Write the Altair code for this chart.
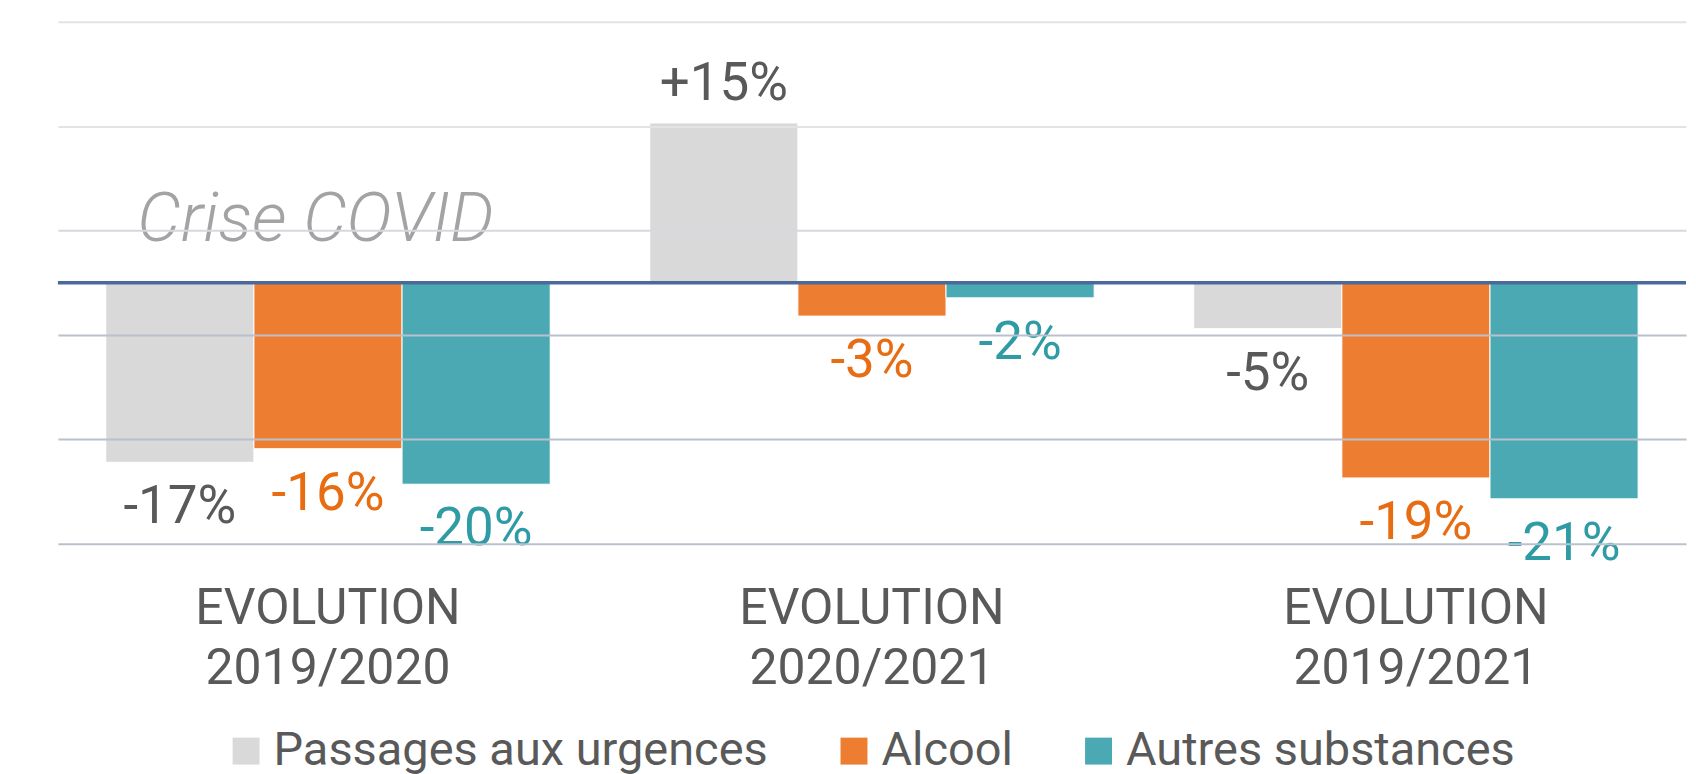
import altair as alt
import pandas as pd

groups = ["EVOLUTION 2019/2020", "EVOLUTION 2020/2021", "EVOLUTION 2019/2021"]
series = ["Passages aux urgences", "Alcool", "Autres substances"]
passages = [-17.2, 15.3, -4.4]
alcool = [-15.9, -3.2, -18.7]
autres = [-19.3, -1.45, -20.7]
passages_labels = ["-17%", "+15%", "-5%"]
alcool_labels = ["-16%", "-3%", "-19%"]
autres_labels = ["-20%", "-2%", "-21%"]
bar_colors = ["#d9d9d9", "#ed7d31", "#4ba9b3"]
label_colors = ["#595959", "#e86c12", "#2f9ba5"]
y_ticks = [-25, -15, -5, 5, 15, 25]
zero_line = [0]
annotation_text = ["Crise COVID"]
annotation_group = [groups[0]]
annotation_value = [4.0]

rows = []
for s, vals, labs in zip(series, [passages, alcool, autres],
                         [passages_labels, alcool_labels, autres_labels]):
    for g, v, l in zip(groups, vals, labs):
        rows.append({"group": g, "series": s, "value": v, "label": l})
df = pd.DataFrame(rows)

FONT = "Roboto"

x_scale = alt.Scale(domain=groups, paddingInner=0.183, paddingOuter=0.088)
x_enc = alt.X(
    "group:N", sort=groups, scale=x_scale,
    axis=alt.Axis(title=None, labelExpr="split(datum.label, ' ')", labelFont=FONT,
                  labelFontSize=50, labelColor="#595959", labelLineHeight=60,
                  labelPadding=40, labelLimit=0, ticks=False, tickSize=0,
                  domain=False, labelAngle=0, grid=False),
)
xo_enc = alt.XOffset("series:N", sort=series,
                     scale=alt.Scale(domain=series, paddingInner=0, paddingOuter=0))
y_scale = alt.Scale(domain=[-25, 25], nice=False, zero=False)

bars = alt.Chart(df).mark_bar(stroke="white", strokeWidth=1).encode(
    x=x_enc,
    xOffset=xo_enc,
    y=alt.Y("value:Q", scale=y_scale,
            axis=alt.Axis(title=None, values=y_ticks, labels=False, ticks=False,
                          domain=False, grid=True, gridWidth=2, zindex=1,
                          gridColor={"condition": [
                              {"test": "datum.value >= 15", "value": "#e3e3e3"},
                              {"test": "datum.value > 0", "value": "#d5d8de"}],
                              "value": "#bac1cd"})),
    color=alt.Color("series:N", sort=series,
                    scale=alt.Scale(domain=series, range=bar_colors),
                    legend=alt.Legend(orient="none", legendX=165, legendY=707,
                                      direction="horizontal", title=None,
                                      symbolType="square", symbolSize=729,
                                      symbolStrokeWidth=0, labelFont=FONT,
                                      labelFontSize=47, labelColor="#595959",
                                      labelOffset=4, columnPadding=62,
                                      labelLimit=0, padding=0)),
)

text_common = dict(font=FONT, fontSize=53, baseline="middle", align="center")
label_color = alt.Color("series:N", scale=alt.Scale(domain=series, range=label_colors),
                        legend=None)
neg_labels = alt.Chart(df).transform_filter("datum.value < 0").mark_text(
    dy=45, **text_common).encode(
    x=alt.X("group:N", sort=groups, scale=x_scale),
    xOffset=xo_enc,
    y=alt.Y("value:Q", scale=y_scale),
    text="label:N",
    color=label_color,
)
pos_labels = alt.Chart(df).transform_filter("datum.value >= 0").mark_text(
    dy=-39, **text_common).encode(
    x=alt.X("group:N", sort=groups, scale=x_scale),
    xOffset=xo_enc,
    y=alt.Y("value:Q", scale=y_scale),
    text="label:N",
    color=label_color,
)

zero = alt.Chart(pd.DataFrame({"v": zero_line})).mark_rule(
    color="#4a6a9c", strokeWidth=3.5).encode(y=alt.Y("v:Q", scale=y_scale))

annot = alt.Chart(pd.DataFrame({"label": annotation_text, "group": annotation_group,
                                "value": annotation_value})).mark_text(
    align="left", baseline="alphabetic", font=FONT, fontStyle="italic",
    fontWeight=300, fontSize=69, color="#a3a3a3", dx=-191).encode(
    x=alt.X("group:N", sort=groups, scale=x_scale),
    y=alt.Y("value:Q", scale=y_scale), text="label:N")

chart = alt.layer(bars, zero, neg_labels, pos_labels, annot).resolve_scale(
    color="independent").properties(
    width=1631, height=523,
    padding={"left": 48, "top": 13, "right": 0, "bottom": 0},
).configure_view(stroke=None)

chart.save("out.html", embed_options={"renderer": "svg", "actions": False})
